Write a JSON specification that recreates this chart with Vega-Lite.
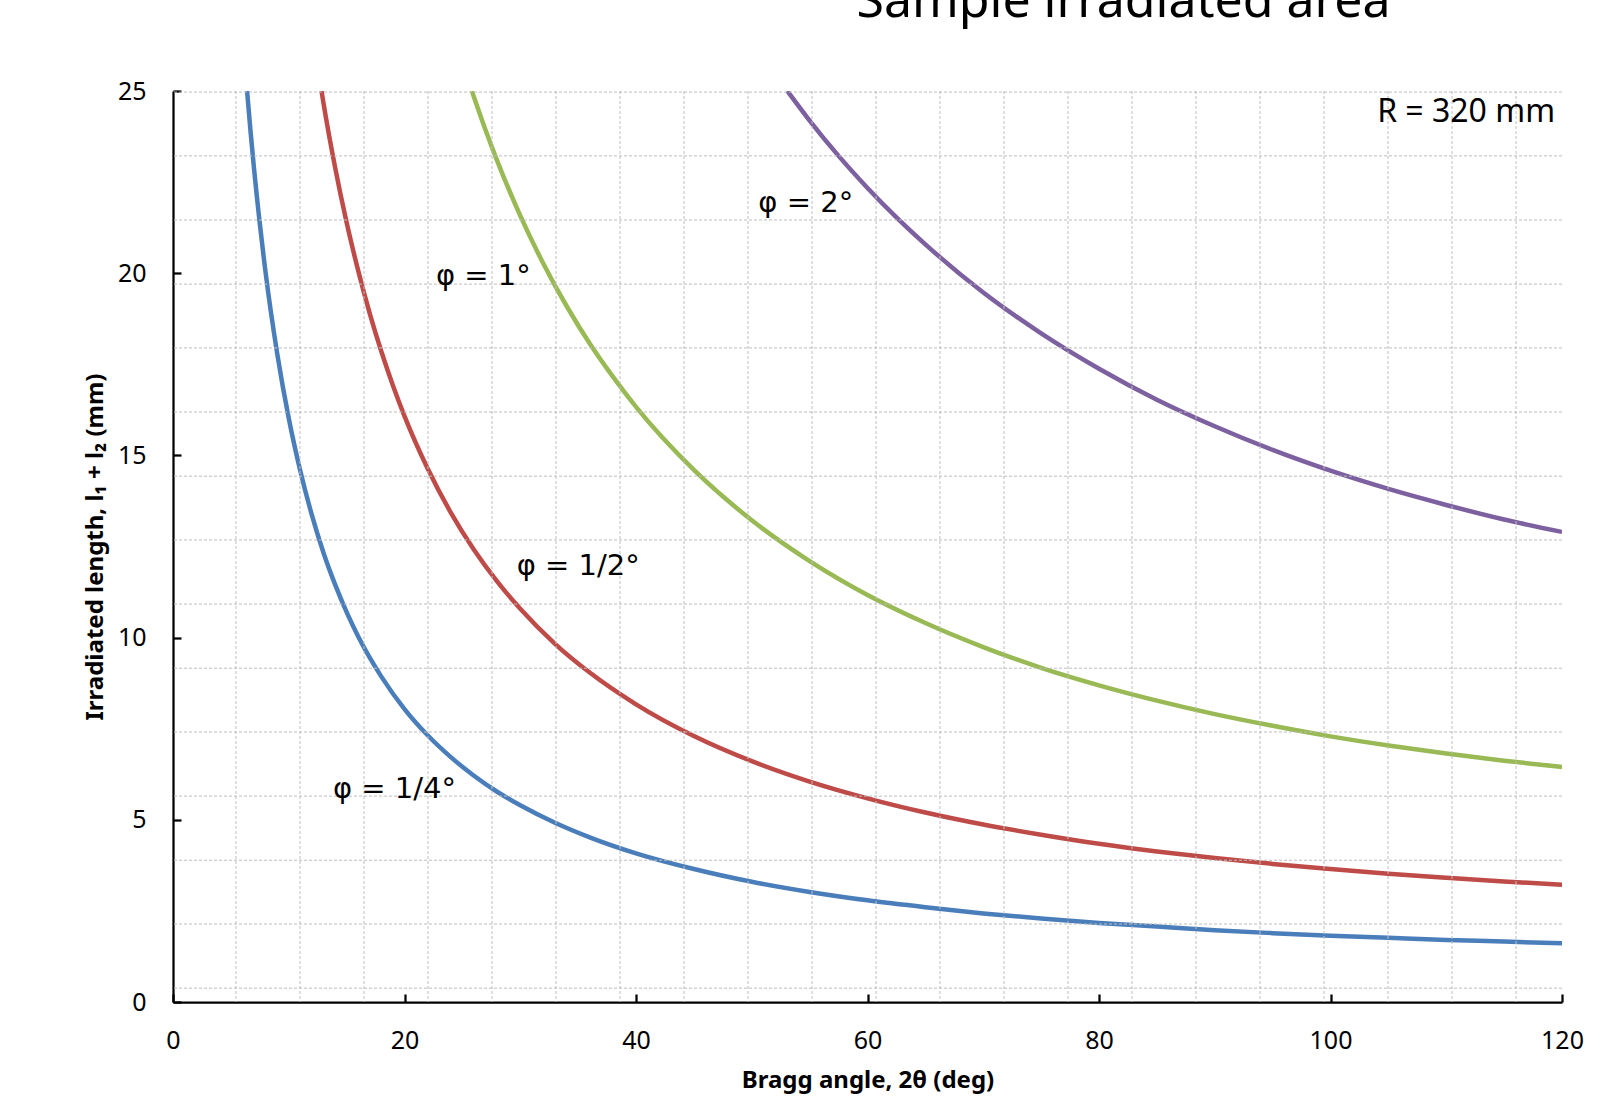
{
  "$schema": "https://vega.github.io/schema/vega-lite/v6.json",
  "width": 1389,
  "height": 911,
  "autosize": {"type": "none"},
  "padding": {"left": 173, "top": 91, "right": 42, "bottom": 118},
  "background": "white",
  "config": {
    "view": {"stroke": null},
    "axis": {"grid": false, "domainColor": "black", "domainWidth": 2.25, "tickColor": "black", "tickWidth": 2.25, "tickSize": -8, "labelFont": "Noto Sans", "labelFontSize": 25, "labelColor": "black", "labelPadding": 34, "labelFlush": false, "titleFont": "Noto Sans", "titleFontSize": 24, "titleFontWeight": "bold", "titleColor": "black"},
    "axisX": {"titlePadding": 15},
    "axisY": {"titlePadding": 10, "labelPadding": 35}
  },
  "title": {"text": "Sample irradiated area", "font": "Noto Sans", "fontSize": 50, "fontWeight": "normal", "color": "black", "anchor": "middle", "frame": "group", "dx": 256, "offset": 12, "baseline": "alphabetic"},
  "datasets": {
    "curves": [
      {"angle": 6.40, "L": 25.0, "phi": "1/4"}, {"angle": 6.7, "L": 23.89, "phi": "1/4"}, {"angle": 7, "L": 22.87, "phi": "1/4"}, {"angle": 8, "L": 20.02, "phi": "1/4"}, {"angle": 9, "L": 17.80, "phi": "1/4"}, {"angle": 10, "L": 16.02, "phi": "1/4"}, {"angle": 11, "L": 14.57, "phi": "1/4"}, {"angle": 12, "L": 13.36, "phi": "1/4"}, {"angle": 13, "L": 12.33, "phi": "1/4"}, {"angle": 14, "L": 11.46, "phi": "1/4"}, {"angle": 15, "L": 10.70, "phi": "1/4"}, {"angle": 16, "L": 10.03, "phi": "1/4"}, {"angle": 18, "L": 8.93, "phi": "1/4"}, {"angle": 20, "L": 8.04, "phi": "1/4"}, {"angle": 22, "L": 7.32, "phi": "1/4"}, {"angle": 24, "L": 6.72, "phi": "1/4"}, {"angle": 26, "L": 6.21, "phi": "1/4"}, {"angle": 28, "L": 5.77, "phi": "1/4"}, {"angle": 30, "L": 5.40, "phi": "1/4"}, {"angle": 33, "L": 4.92, "phi": "1/4"}, {"angle": 36, "L": 4.52, "phi": "1/4"}, {"angle": 40, "L": 4.08, "phi": "1/4"}, {"angle": 45, "L": 3.65, "phi": "1/4"}, {"angle": 50, "L": 3.30, "phi": "1/4"}, {"angle": 55, "L": 3.02, "phi": "1/4"}, {"angle": 60, "L": 2.79, "phi": "1/4"}, {"angle": 65, "L": 2.60, "phi": "1/4"}, {"angle": 70, "L": 2.43, "phi": "1/4"}, {"angle": 75, "L": 2.29, "phi": "1/4"}, {"angle": 80, "L": 2.17, "phi": "1/4"}, {"angle": 85, "L": 2.07, "phi": "1/4"}, {"angle": 90, "L": 1.97, "phi": "1/4"}, {"angle": 95, "L": 1.89, "phi": "1/4"}, {"angle": 100, "L": 1.82, "phi": "1/4"}, {"angle": 105, "L": 1.76, "phi": "1/4"}, {"angle": 110, "L": 1.70, "phi": "1/4"}, {"angle": 115, "L": 1.66, "phi": "1/4"}, {"angle": 120, "L": 1.61, "phi": "1/4"},
      {"angle": 12.83, "L": 25.0, "phi": "1/2"}, {"angle": 13, "L": 24.67, "phi": "1/2"}, {"angle": 14, "L": 22.91, "phi": "1/2"}, {"angle": 15, "L": 21.39, "phi": "1/2"}, {"angle": 16, "L": 20.07, "phi": "1/2"}, {"angle": 17, "L": 18.89, "phi": "1/2"}, {"angle": 18, "L": 17.85, "phi": "1/2"}, {"angle": 19, "L": 16.92, "phi": "1/2"}, {"angle": 20, "L": 16.08, "phi": "1/2"}, {"angle": 22, "L": 14.64, "phi": "1/2"}, {"angle": 24, "L": 13.43, "phi": "1/2"}, {"angle": 26, "L": 12.41, "phi": "1/2"}, {"angle": 28, "L": 11.54, "phi": "1/2"}, {"angle": 30, "L": 10.79, "phi": "1/2"}, {"angle": 33, "L": 9.83, "phi": "1/2"}, {"angle": 36, "L": 9.04, "phi": "1/2"}, {"angle": 40, "L": 8.17, "phi": "1/2"}, {"angle": 45, "L": 7.30, "phi": "1/2"}, {"angle": 50, "L": 6.61, "phi": "1/2"}, {"angle": 55, "L": 6.05, "phi": "1/2"}, {"angle": 60, "L": 5.59, "phi": "1/2"}, {"angle": 65, "L": 5.20, "phi": "1/2"}, {"angle": 70, "L": 4.87, "phi": "1/2"}, {"angle": 75, "L": 4.59, "phi": "1/2"}, {"angle": 80, "L": 4.34, "phi": "1/2"}, {"angle": 85, "L": 4.13, "phi": "1/2"}, {"angle": 90, "L": 3.95, "phi": "1/2"}, {"angle": 95, "L": 3.79, "phi": "1/2"}, {"angle": 100, "L": 3.65, "phi": "1/2"}, {"angle": 105, "L": 3.52, "phi": "1/2"}, {"angle": 110, "L": 3.41, "phi": "1/2"}, {"angle": 115, "L": 3.31, "phi": "1/2"}, {"angle": 120, "L": 3.22, "phi": "1/2"},
      {"angle": 25.82, "L": 25.0, "phi": "1"}, {"angle": 27, "L": 23.93, "phi": "1"}, {"angle": 28, "L": 23.09, "phi": "1"}, {"angle": 30, "L": 21.58, "phi": "1"}, {"angle": 32, "L": 20.26, "phi": "1"}, {"angle": 34, "L": 19.10, "phi": "1"}, {"angle": 36, "L": 18.07, "phi": "1"}, {"angle": 38, "L": 17.16, "phi": "1"}, {"angle": 40, "L": 16.33, "phi": "1"}, {"angle": 45, "L": 14.60, "phi": "1"}, {"angle": 50, "L": 13.22, "phi": "1"}, {"angle": 55, "L": 12.10, "phi": "1"}, {"angle": 60, "L": 11.17, "phi": "1"}, {"angle": 65, "L": 10.40, "phi": "1"}, {"angle": 70, "L": 9.74, "phi": "1"}, {"angle": 75, "L": 9.17, "phi": "1"}, {"angle": 80, "L": 8.69, "phi": "1"}, {"angle": 85, "L": 8.27, "phi": "1"}, {"angle": 90, "L": 7.90, "phi": "1"}, {"angle": 95, "L": 7.58, "phi": "1"}, {"angle": 100, "L": 7.29, "phi": "1"}, {"angle": 105, "L": 7.04, "phi": "1"}, {"angle": 110, "L": 6.82, "phi": "1"}, {"angle": 115, "L": 6.62, "phi": "1"}, {"angle": 120, "L": 6.45, "phi": "1"},
      {"angle": 53.08, "L": 25.0, "phi": "2"}, {"angle": 55, "L": 24.19, "phi": "2"}, {"angle": 57.5, "L": 23.22, "phi": "2"}, {"angle": 60, "L": 22.34, "phi": "2"}, {"angle": 62.5, "L": 21.53, "phi": "2"}, {"angle": 65, "L": 20.79, "phi": "2"}, {"angle": 70, "L": 19.47, "phi": "2"}, {"angle": 75, "L": 18.35, "phi": "2"}, {"angle": 80, "L": 17.38, "phi": "2"}, {"angle": 85, "L": 16.53, "phi": "2"}, {"angle": 90, "L": 15.80, "phi": "2"}, {"angle": 95, "L": 15.15, "phi": "2"}, {"angle": 100, "L": 14.58, "phi": "2"}, {"angle": 105, "L": 14.08, "phi": "2"}, {"angle": 110, "L": 13.64, "phi": "2"}, {"angle": 115, "L": 13.24, "phi": "2"}, {"angle": 120, "L": 12.90, "phi": "2"}
    ],
    "labels": [
      {"angle": 13.82, "L": 5.60, "text": "φ = 1/4°"},
      {"angle": 29.69, "L": 11.72, "text": "φ = 1/2°"},
      {"angle": 22.72, "L": 19.68, "text": "φ = 1°"},
      {"angle": 50.57, "L": 21.69, "text": "φ = 2°"}
    ],
    "note": [
      {"angle": 119.4, "L": 24.16, "text": "R = 320 mm"}
    ],
    "gridx": [
      {"angle": 5.44}, {"angle": 10.97}, {"angle": 16.50}, {"angle": 22.03}, {"angle": 27.56}, {"angle": 33.09}, {"angle": 38.62}, {"angle": 44.15}, {"angle": 49.68}, {"angle": 55.21}, {"angle": 60.74}, {"angle": 66.26}, {"angle": 71.79}, {"angle": 77.32}, {"angle": 82.85}, {"angle": 88.38}, {"angle": 93.91}, {"angle": 99.44}, {"angle": 104.97}, {"angle": 110.50}, {"angle": 116.03}
    ],
    "gridy": [
      {"L": 24.97}, {"L": 23.22}, {"L": 21.46}, {"L": 19.70}, {"L": 17.95}, {"L": 16.19}, {"L": 14.43}, {"L": 12.68}, {"L": 10.92}, {"L": 9.16}, {"L": 7.41}, {"L": 5.65}, {"L": 3.89}, {"L": 2.14}, {"L": 0.38}
    ]
  },
  "layer": [
    {
      "data": {"name": "curves"},
      "mark": {"type": "line", "strokeWidth": 4.5, "interpolate": "monotone", "clip": true},
      "encoding": {
        "x": {"field": "angle", "type": "quantitative", "title": "Bragg angle, 2θ (deg)", "scale": {"domain": [0, 120], "nice": false, "zero": false},
          "axis": {"title": "Bragg angle, 2θ (deg)", "values": [0, 20, 40, 60, 80, 100, 120]}},
        "y": {"field": "L", "type": "quantitative", "title": "Irradiated length, l₁ + l₂ (mm)", "scale": {"domain": [0, 25], "nice": false, "zero": false},
          "axis": {"title": "Irradiated length, l₁ + l₂ (mm)", "values": [0, 5, 10, 15, 20, 25]}},
        "color": {"field": "phi", "type": "nominal", "scale": {"domain": ["1/4", "1/2", "1", "2"], "range": ["#4A7EBB", "#BE4B48", "#98B954", "#7D60A0"]}, "legend": null}
      }
    },
    {
      "data": {"name": "gridx"},
      "mark": {"type": "rule", "color": "#bdbdbd", "strokeWidth": 1, "strokeDash": [3, 2]},
      "encoding": {
        "x": {"field": "angle", "type": "quantitative", "title": "Bragg angle, 2θ (deg)", "scale": {"domain": [0, 120], "nice": false, "zero": false}}
      }
    },
    {
      "data": {"name": "gridy"},
      "mark": {"type": "rule", "color": "#bdbdbd", "strokeWidth": 1, "strokeDash": [3, 2]},
      "encoding": {
        "y": {"field": "L", "type": "quantitative", "title": "Irradiated length, l₁ + l₂ (mm)", "scale": {"domain": [0, 25], "nice": false, "zero": false}}
      }
    },
    {
      "data": {"name": "labels"},
      "mark": {"type": "text", "font": "DejaVu Sans", "fontSize": 29, "align": "left", "baseline": "alphabetic", "color": "black"},
      "encoding": {
        "x": {"field": "angle", "type": "quantitative", "title": "Bragg angle, 2θ (deg)", "scale": {"domain": [0, 120], "nice": false, "zero": false}},
        "y": {"field": "L", "type": "quantitative", "title": "Irradiated length, l₁ + l₂ (mm)", "scale": {"domain": [0, 25], "nice": false, "zero": false}},
        "text": {"field": "text"}
      }
    },
    {
      "data": {"name": "note"},
      "mark": {"type": "text", "font": "Noto Sans", "fontSize": 32, "align": "right", "baseline": "alphabetic", "color": "black"},
      "encoding": {
        "x": {"field": "angle", "type": "quantitative", "title": "Bragg angle, 2θ (deg)", "scale": {"domain": [0, 120], "nice": false, "zero": false}},
        "y": {"field": "L", "type": "quantitative", "title": "Irradiated length, l₁ + l₂ (mm)", "scale": {"domain": [0, 25], "nice": false, "zero": false}},
        "text": {"field": "text"}
      }
    }
  ]
}
